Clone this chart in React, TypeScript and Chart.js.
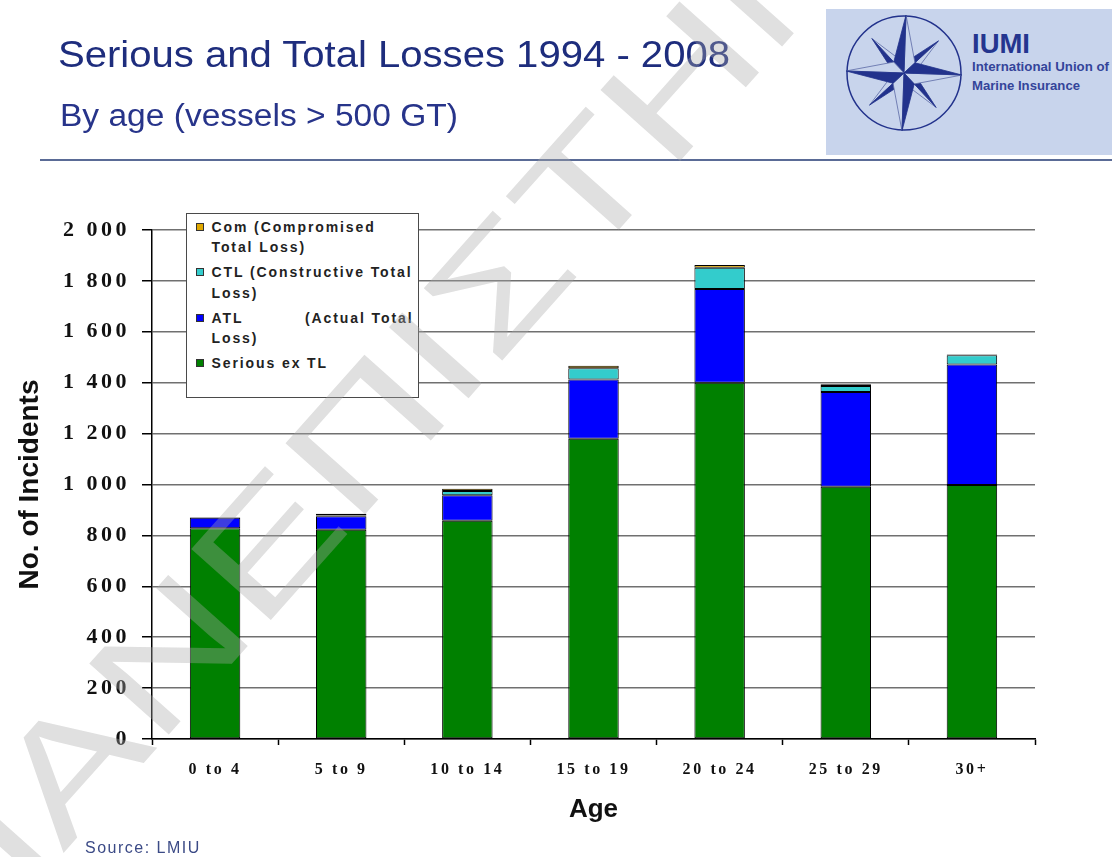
import React, { useEffect, useRef } from "react";
import { Chart, registerables } from "chart.js";

Chart.register(...registerables);

// ---- data -------------------------------------------------------------
const ageGroups = ["0 to 4", "5 to 9", "10 to 14", "15 to 19", "20 to 24", "25 to 29", "30+"];
const seriousExTL = [828, 822, 858, 1180, 1400, 991, 998];
const actualTotalLoss = [41, 53, 100, 233, 368, 372, 474];
const constructiveTotalLoss = [0, 3, 16, 44, 84, 24, 36];
const compromisedTotalLoss = [2, 7, 9, 10, 10, 7, 3];

const yMin = 0;
const yMax = 2000;
const yStep = 200;

const seriesLabels = [
  "Serious ex TL",
  "ATL (Actual Total Loss)",
  "CTL (Constructive Total Loss)",
  "Com (Compromised Total Loss)",
];
const seriesColors = ["#008000", "#0000ff", "#33cccc", "#e0a800"];

// legend rows, top to bottom (reverse of stacking order)
const legendRows = [
  { series: 3, lines: ["Com (Compromised", "Total Loss)"], spread: false },
  { series: 2, lines: ["CTL (Constructive Total", "Loss)"], spread: false },
  { series: 1, lines: ["ATL (Actual Total", "Loss)"], spread: true },
  { series: 0, lines: ["Serious ex TL"], spread: false },
];

const NAVY = "#1e2d7d";
const SANS = "'Liberation Sans', Arial, Helvetica, sans-serif";
const SERIF = "'Liberation Serif', 'Times New Roman', serif";

// extra character spacing for the axis labels
const labelSpacing: Record<string, string> = { x: "2.6px", y: "3.5px" };

const thousands = (v: number) =>
  v >= 1000 ? `${Math.floor(v / 1000)} ${String(v % 1000).padStart(3, "0")}` : String(v);

const spacedLabelsPlugin = {
  id: "spacedLabels",
  beforeDraw(chart: any) {
    Object.values(chart.scales).forEach((scale: any) => {
      if (scale.__spaced) return;
      const sp = labelSpacing[scale.id];
      if (!sp) return;
      const orig = scale.drawLabels.bind(scale);
      scale.drawLabels = (area: any) => {
        const ctx = chart.ctx;
        ctx.save();
        ctx.letterSpacing = sp;
        orig(area);
        ctx.restore();
      };
      scale.__spaced = true;
    });
  },
};

function LossChart() {
  const ref = useRef<HTMLCanvasElement | null>(null);

  useEffect(() => {
    if (!ref.current) return;
    const series = [seriousExTL, actualTotalLoss, constructiveTotalLoss, compromisedTotalLoss];
    const chart = new Chart(ref.current, {
      type: "bar",
      data: {
        labels: ageGroups,
        datasets: series.map((d, i) => ({
          label: seriesLabels[i],
          data: d,
          backgroundColor: seriesColors[i],
          borderColor: "#000",
          borderWidth: 1,
          borderSkipped: false,
          barPercentage: 0.4,
          categoryPercentage: 1,
        })),
      },
      options: {
        responsive: false,
        animation: false,
        events: [],
        layout: { padding: { top: 230, right: 77, bottom: 0, left: 0 } },
        plugins: { legend: { display: false }, tooltip: { enabled: false } },
        scales: {
          x: {
            stacked: true,
            grid: {
              display: true,
              drawOnChartArea: false,
              drawTicks: true,
              tickLength: 6,
              tickColor: "#000",
              tickWidth: 1.5,
              offset: true,
            },
            border: { color: "#000", width: 1.5 },
            ticks: {
              color: "#111",
              font: { family: SERIF, size: 16, weight: "bold" },
              padding: 15,
              maxRotation: 0,
              autoSkip: false,
            },
            title: {
              display: true,
              text: "Age",
              color: "#111",
              font: { family: SANS, size: 26, weight: "bold" },
              padding: { top: 0, bottom: 32 },
            },
            afterFit: (s: any) => {
              s.height = 118;
            },
          },
          y: {
            stacked: true,
            min: yMin,
            max: yMax,
            ticks: {
              stepSize: yStep,
              callback: (v: any) => thousands(Number(v)),
              color: "#111",
              font: { family: SERIF, size: 22, weight: "bold" },
              padding: 12,
            },
            grid: {
              color: "#707070",
              lineWidth: 1.5,
              tickColor: "#000",
              tickLength: 10,
              tickWidth: 1.5,
            },
            border: { color: "#000", width: 1.5 },
            title: {
              display: true,
              text: "No. of Incidents",
              color: "#111",
              font: { family: SANS, size: 28, weight: "bold" },
              padding: { top: 13, bottom: 0 },
            },
            afterFit: (s: any) => {
              s.width = 152;
            },
          },
        },
      },
      plugins: [spacedLabelsPlugin],
    } as any);
    return () => chart.destroy();
  }, []);

  return (
    <canvas
      ref={ref}
      width={1112}
      height={857}
      style={{ position: "absolute", left: 0, top: 0, width: 1112, height: 857 }}
    />
  );
}

function Legend() {
  return (
    <div
      style={{
        position: "absolute",
        left: 186,
        top: 213,
        width: 233,
        height: 185,
        boxSizing: "border-box",
        border: "1.5px solid #4a4a4a",
        background: "#fff",
        paddingTop: 2.5,
        fontFamily: SANS,
        fontWeight: "bold",
        fontSize: 14,
        letterSpacing: "1.9px",
        color: "#222",
      }}
    >
      {legendRows.map((row) => (
        <div
          key={row.series}
          style={{ position: "relative", height: row.lines.length * 20.5, marginBottom: 4.5 }}
        >
          <span
            style={{
              position: "absolute",
              left: 9,
              top: 6,
              width: 8,
              height: 8,
              boxSizing: "border-box",
              background: seriesColors[row.series],
              border: "1px solid #333",
            }}
          />
          <div style={{ position: "absolute", left: 24.5, top: 0, width: 202 }}>
            {row.lines.map((ln, i) => (
              <div
                key={i}
                style={{
                  height: 20.5,
                  lineHeight: "20.5px",
                  whiteSpace: "nowrap",
                  display: "flex",
                  justifyContent: row.spread && i === 0 ? "space-between" : "flex-start",
                }}
              >
                {row.spread && i === 0
                  ? [ln.slice(0, ln.indexOf(" ")), ln.slice(ln.indexOf(" ") + 1)].map((w, k) => (
                      <span key={k}>{w}</span>
                    ))
                  : ln}
              </div>
            ))}
          </div>
        </div>
      ))}
    </div>
  );
}

function Header() {
  return (
    <svg width={1112} height={165} style={{ position: "absolute", left: 0, top: 0 }}>
      <text
        x={58}
        y={67}
        fontFamily={SANS}
        fontSize={36}
        fill={NAVY}
        textLength={672}
        lengthAdjust="spacingAndGlyphs"
      >
        Serious and Total Losses 1994 - 2008
      </text>
      <text
        x={60}
        y={126}
        fontFamily={SANS}
        fontSize={31}
        fill="#27348a"
        textLength={398}
        lengthAdjust="spacingAndGlyphs"
      >
        By age (vessels &gt; 500 GT)
      </text>
      <line x1={40} y1={160} x2={1112} y2={160} stroke="#5a6b96" strokeWidth={2} />
    </svg>
  );
}

function Logo() {
  const cx = 78;
  const cy = 64;
  const dark = "#22328c";
  const pt = (deg: number, r: number) => {
    const a = (deg * Math.PI) / 180;
    return `${(cx + r * Math.cos(a)).toFixed(2)},${(cy + r * Math.sin(a)).toFixed(2)}`;
  };
  const points = (main: boolean) =>
    [0, 1, 2, 3].map((k) => {
      const base = -90 + (main ? 0 : 45) + k * 90 + 2;
      const len = main ? 58 : 47;
      const w = main ? 15 : 10;
      const tip = pt(base, len);
      return (
        <g key={`${main}-${k}`}>
          <polygon
            points={`${cx},${cy} ${tip} ${pt(base + 45, w)}`}
            fill="#c8d4ec"
            stroke="#5c6aa6"
            strokeWidth={0.8}
          />
          <polygon points={`${cx},${cy} ${tip} ${pt(base - 45, w)}`} fill={dark} stroke={dark} strokeWidth={0.8} />
        </g>
      );
    });
  return (
    <svg width={286} height={146} style={{ position: "absolute", left: 826, top: 9 }}>
      <rect width={286} height={146} fill="#c8d4ec" />
      <circle cx={cx} cy={cy} r={57} fill="none" stroke={dark} strokeWidth={1.5} />
      {points(false)}
      {points(true)}
      <text x={146} y={44} fontFamily={SANS} fontWeight="bold" fontSize={28} fill="#24358f" textLength={58} lengthAdjust="spacingAndGlyphs">
        IUMI
      </text>
      <text x={146} y={62} fontFamily={SANS} fontWeight="bold" fontSize={13} fill="#34449a" textLength={137} lengthAdjust="spacingAndGlyphs">
        International Union of
      </text>
      <text x={146} y={81} fontFamily={SANS} fontWeight="bold" fontSize={13} fill="#34449a" textLength={108} lengthAdjust="spacingAndGlyphs">
        Marine Insurance
      </text>
    </svg>
  );
}

function Watermark() {
  // wide, light diagonal lettering laid over the page
  return (
    <svg width={1112} height={857} style={{ position: "absolute", left: 0, top: 0, pointerEvents: "none" }}>
      <g opacity={0.36} transform="translate(-79 932) rotate(-48.3) scale(1.37 1)">
        <text x={0} y={0} fontFamily={SANS} fontSize={155} fill="#a8a8a8" dominantBaseline="central">
          ΠΑΝΕΠΙΣΤΗΜΙΟ
        </text>
      </g>
    </svg>
  );
}

export default function App() {
  return (
    <div
      style={{
        position: "absolute",
        left: 0,
        top: 0,
        width: 1112,
        height: 857,
        overflow: "hidden",
        background: "#fff",
      }}
    >
      <LossChart />
      <Legend />
      <Header />
      <Logo />
      <div
        style={{
          position: "absolute",
          left: 85,
          top: 839,
          fontFamily: SANS,
          fontSize: 16,
          color: "#3b4a86",
          letterSpacing: "1.5px",
          whiteSpace: "nowrap",
        }}
      >
        Source: LMIU
      </div>
      <Watermark />
    </div>
  );
}
